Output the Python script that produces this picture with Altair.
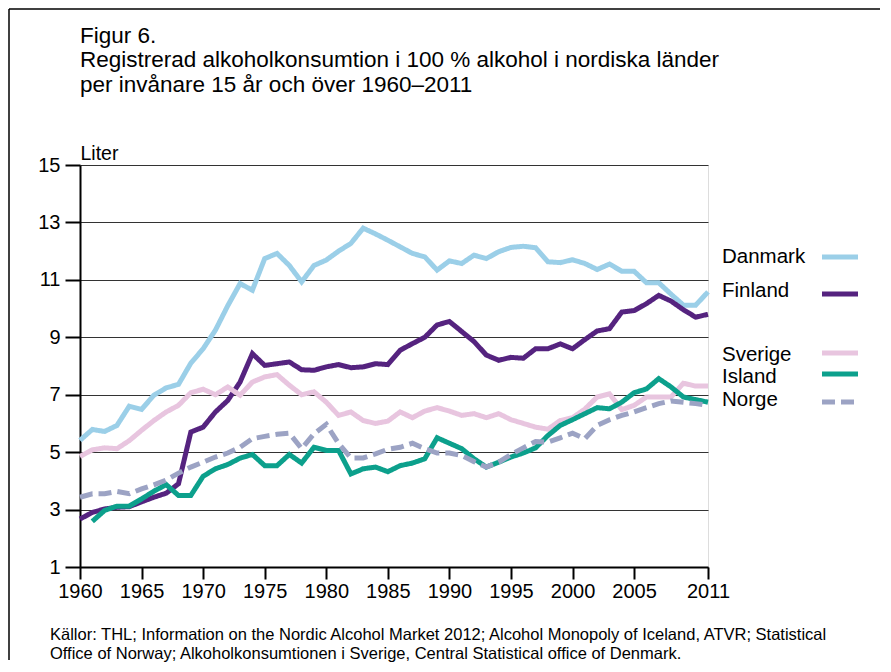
import altair as alt
import pandas as pd

years = list(range(1960, 2012))

danmark = [5.41, 5.79, 5.72, 5.93, 6.6, 6.49, 6.98, 7.24, 7.36, 8.1,
           8.6, 9.25, 10.1, 10.87, 10.64, 11.74, 11.92, 11.5, 10.93, 11.5,
           11.69, 12.0, 12.27, 12.8, 12.6, 12.38, 12.15, 11.92, 11.8, 11.34,
           11.66, 11.57, 11.86, 11.74, 11.98, 12.13, 12.17, 12.12, 11.63, 11.6,
           11.7, 11.57, 11.36, 11.55, 11.3, 11.3, 10.9, 10.9, 10.5, 10.12,
           10.12, 10.58]
finland = [2.67, 2.9, 3.02, 3.08, 3.1, 3.27, 3.43, 3.57, 3.9, 5.7,
           5.87, 6.4, 6.8, 7.44, 8.43, 8.02, 8.08, 8.14, 7.87, 7.85,
           7.97, 8.05, 7.94, 7.97, 8.08, 8.05, 8.55, 8.78, 9.0, 9.43,
           9.55, 9.2, 8.85, 8.38, 8.2, 8.3, 8.27, 8.6, 8.6, 8.77,
           8.6, 8.92, 9.22, 9.3, 9.88, 9.93, 10.17, 10.46, 10.26, 9.96,
           9.7, 9.8]
sverige = [4.85, 5.08, 5.15, 5.12, 5.4, 5.76, 6.1, 6.4, 6.63, 7.07,
           7.19, 7.0, 7.27, 6.98, 7.44, 7.62, 7.7, 7.33, 7.0, 7.1,
           6.74, 6.28, 6.4, 6.1, 6.0, 6.08, 6.4, 6.2, 6.43, 6.55,
           6.43, 6.28, 6.34, 6.2, 6.34, 6.13, 6.0, 5.87, 5.8, 6.1,
           6.2, 6.5, 6.92, 7.03, 6.48, 6.63, 6.92, 6.92, 6.92, 7.4,
           7.3, 7.3]
island = [None, 2.59, 2.97, 3.12, 3.12, 3.37, 3.64, 3.87, 3.49, 3.49,
          4.16, 4.42, 4.57, 4.79, 4.92, 4.53, 4.53, 4.92, 4.62, 5.17,
          5.06, 5.06, 4.24, 4.42, 4.48, 4.32, 4.53, 4.62, 4.77, 5.5,
          5.31, 5.12, 4.77, 4.48, 4.65, 4.83, 4.97, 5.15, 5.58, 5.93,
          6.13, 6.34, 6.55, 6.51, 6.74, 7.07, 7.2, 7.56, 7.27, 6.92,
          6.83, 6.74]
norge = [3.43, 3.55, 3.55, 3.63, 3.55, 3.72, 3.86, 4.03, 4.27, 4.48,
         4.65, 4.83, 4.97, 5.17, 5.47, 5.55, 5.62, 5.66, 5.12, 5.64,
         5.97, 5.3, 4.8, 4.8, 4.94, 5.1, 5.17, 5.31, 5.12, 4.97,
         4.97, 4.88, 4.67, 4.48, 4.65, 4.92, 5.15, 5.37, 5.35, 5.5,
         5.66, 5.47, 5.93, 6.13, 6.28, 6.4, 6.55, 6.69, 6.78, 6.74,
         6.69, 6.63]

countries = ["Danmark", "Finland", "Sverige", "Island", "Norge"]
colors = ["#9BCFE8", "#55237F", "#E8C5DF", "#0CA08C", "#9CA3C4"]
dashes = [[1, 0], [1, 0], [1, 0], [1, 0], [13, 6]]

x_ticks = [1960, 1965, 1970, 1975, 1980, 1985, 1990, 1995, 2000, 2005, 2011]
y_ticks = [1, 3, 5, 7, 9, 11, 13, 15]

title_lines = ["Figur 6.",
               "Registrerad alkoholkonsumtion i 100 % alkohol i nordiska länder",
               "per invånare 15 år och över 1960–2011"]
source_lines = ["Källor: THL; Information on the Nordic Alcohol Market 2012; Alcohol Monopoly of Iceland, ATVR; Statistical",
                "Office of Norway; Alkoholkonsumtionen i Sverige, Central Statistical office of Denmark."]

series = {"Danmark": danmark, "Finland": finland, "Sverige": sverige,
          "Island": island, "Norge": norge}
rows = []
for order, c in enumerate(countries):
    for y, v in zip(years, series[c]):
        if v is not None:
            rows.append({"year": y, "value": v, "country": c, "order": order})
df = pd.DataFrame(rows)

FONT = "Liberation Sans"
W, H = 628, 402

lines = alt.Chart(df).mark_line(strokeWidth=5, strokeJoin="miter", strokeCap="butt").encode(
    x=alt.X("year:Q",
            scale=alt.Scale(domain=[1960, 2011], nice=False, zero=False),
            axis=alt.Axis(values=x_ticks, format="d", title=None, grid=False,
                          labelFontSize=20, labelFont=FONT, labelColor="black",
                          tickSize=12, tickWidth=2, tickColor="black",
                          domainColor="black", domainWidth=2, labelPadding=2,
                          labelFlush=False)),
    y=alt.Y("value:Q",
            scale=alt.Scale(domain=[1, 15], nice=False, zero=False),
            axis=alt.Axis(values=y_ticks, title="Liter", grid=True,
                          gridColor="#333333", gridWidth=1.2,
                          labelFontSize=20, labelFont=FONT, labelColor="black",
                          tickSize=15, tickWidth=2, tickColor="black",
                          domainColor="black", domainWidth=2, labelPadding=5,
                          titleAngle=0, titleX=0, titleY=-6, titleAlign="left",
                          titleBaseline="alphabetic", titleFontSize=19.5,
                          titleFont=FONT, titleFontWeight="normal",
                          titleColor="black")),
    color=alt.Color("country:N", scale=alt.Scale(domain=countries, range=colors), legend=None),
    strokeDash=alt.StrokeDash("country:N", scale=alt.Scale(domain=countries, range=dashes), legend=None),
    detail="country:N",
    order=alt.Order("year:Q"),
)

one = pd.DataFrame({"a": [0]})
layers = [lines]

# legend (manual, matching the reference layout)
leg_text_y = [92, 126, 190, 212, 235]
leg_line_y = [92, 129, 188, 209, 237]
for c, col, d, ty, ly in zip(countries, colors, dashes, leg_text_y, leg_line_y):
    layers.append(alt.Chart(one).mark_text(text=c, font=FONT, fontSize=20.5, align="left",
                                           baseline="middle", color="black").encode(
        x=alt.value(642), y=alt.value(ty)))
    layers.append(alt.Chart(one).mark_rule(strokeWidth=5, color=col, strokeDash=d).encode(
        x=alt.value(742), x2=alt.value(778), y=alt.value(ly)))

# title lines
for t, ty in zip(title_lines, [-129, -105, -80]):
    layers.append(alt.Chart(one).mark_text(text=t, font=FONT, fontSize=22.5, align="left",
                                           baseline="middle", color="black").encode(
        x=alt.value(0), y=alt.value(ty)))

# source lines
for t, ty in zip(source_lines, [470, 489]):
    layers.append(alt.Chart(one).mark_text(text=t, font=FONT, fontSize=16.5, align="left",
                                           baseline="middle", color="black").encode(
        x=alt.value(-30), y=alt.value(ty)))

# outer frame (top and left)
layers.append(alt.Chart(one).mark_rule(strokeWidth=1.5, color="black").encode(
    x=alt.value(-71), x2=alt.value(800), y=alt.value(-156)))
layers.append(alt.Chart(one).mark_rule(strokeWidth=1.5, color="black").encode(
    x=alt.value(-71), y=alt.value(-156), y2=alt.value(495)))

chart = alt.layer(*layers).properties(
    width=W, height=H,
    autosize=alt.AutoSizeParams(type="none"),
    padding={"left": 72, "top": 157, "right": 175, "bottom": 97},
).configure_view(stroke="black", strokeWidth=1.5).configure(background="white")

chart.save("out.html", embed_options={"renderer": "svg", "actions": False})
